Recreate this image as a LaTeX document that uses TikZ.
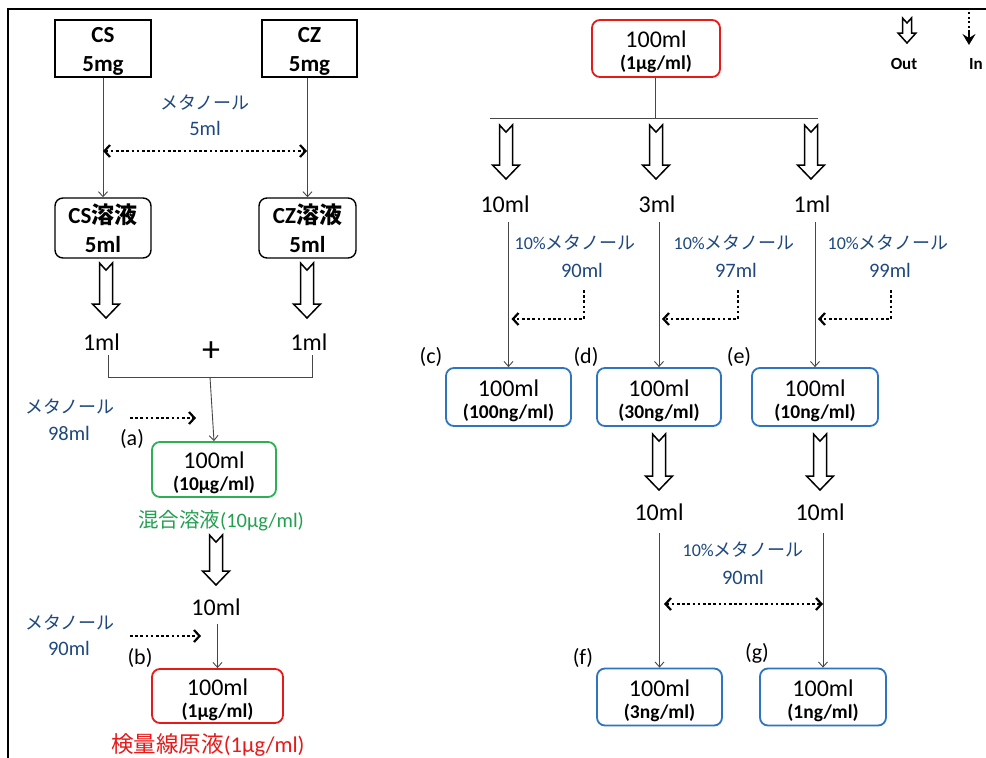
\documentclass[tikz,border=0pt]{standalone}
\usepackage{fontspec}
\setmainfont{Carlito}
\newfontfamily\jp{Noto Sans CJK JP}
\usetikzlibrary{arrows.meta,calc}
\definecolor{navy}{RGB}{31,73,125}
\definecolor{grn}{RGB}{34,160,80}
\definecolor{grnbox}{RGB}{46,175,85}
\definecolor{redc}{RGB}{232,25,25}
\definecolor{bluebox}{RGB}{46,117,190}
\definecolor{linec}{RGB}{70,70,70}
\tikzset{
  sqbox/.style={draw=black, line width=1.4pt, inner sep=0pt},
  rbox/.style={sqbox, rounded corners=8pt},
  boxtxt/.style={inner sep=0pt, align=center, font=\bfseries\fontsize{23}{29}\selectfont},
  vbox/.style={line width=1.8pt, inner sep=0pt, rounded corners=8pt},
  gbox/.style={vbox, draw=grnbox},
  redbox/.style={vbox, draw=redc},
  bbox/.style={vbox, draw=bluebox},
  big/.style={font=\fontsize{24}{26}\selectfont, inner sep=0pt},
  subt/.style={font=\bfseries\fontsize{19.5}{20}\selectfont, inner sep=0pt},
  lbl/.style={font=\fontsize{22}{24}\selectfont, inner sep=0pt},
  meth/.style={text=navy, font=\fontsize{18}{20}\selectfont, inner sep=0pt},
  methn/.style={text=navy, font=\fontsize{20.5}{22}\selectfont, inner sep=0pt},
  legend/.style={font=\bfseries\fontsize{17}{19}\selectfont, inner sep=0pt},
  thinln/.style={draw=linec, line width=0.9pt},
  tarrow/.style={thinln, -{Straight Barb[length=5pt,width=9pt]}},
  dots/.style={draw=black, line width=2.6pt, dash pattern=on 2.6pt off 2.6pt},
  darrow/.style={dots, -{Straight Barb[length=5.5pt,width=12pt,line width=2.2pt]}},
  ddarrow/.style={dots, {Straight Barb[length=5.5pt,width=12pt,line width=2.2pt]}-{Straight Barb[length=5.5pt,width=12pt,line width=2.2pt]}},
}
% hollow arrow: x, ytop, ybot, half shaft, half head, head length
\newcommand{\holarr}[6]{%
  \draw[line width=1.5pt, fill=white, line join=miter, miter limit=10]
    ({#1-#4},#2) -- (#1,{#2+#4*1.1}) -- ({#1+#4},#2) -- ({#1+#4},{#3-#6})
    -- ({#1+#5},{#3-#6}) -- (#1,#3) -- ({#1-#5},{#3-#6}) -- ({#1-#4},{#3-#6}) -- cycle;}
% value box: name, style, x, y, w, h, main, sub
\newcommand{\valbox}[8]{%
  \node[#2, minimum width=#5pt, minimum height=#6pt] (#1) at (#3,#4) {};
  \node[big, anchor=base] at ($(#1.center)+(0,-1)$) {#7};
  \node[subt, anchor=base] at ($(#1.center)+(0,21)$) {#8};}
\begin{document}
\begin{tikzpicture}[x=1pt,y=-1pt]
\useasboundingbox (0,0) rectangle (986,758);
\fill[white] (0,0) rectangle (986,758);
% frame
\draw[line width=2.6pt] (8,758) -- (8,9) -- (986,9);

%%%%%%%% LEFT PART
\node[sqbox, minimum width=96pt, minimum height=57pt] (cs) at (103,48.5) {};
\node[boxtxt] at ($(cs.center)+(0,3)$) {CS\\5mg};
\node[sqbox, minimum width=95pt, minimum height=57pt] (cz) at (309.5,48.5) {};
\node[boxtxt] at ($(cz.center)+(0,3)$) {CZ\\5mg};
\node[meth] (m1) at (205,103) {\jp メタノール};
\node[methn] (m1v) at (205,128) {5ml};
\node[rbox, minimum width=96pt, minimum height=60pt] (cssol) at (103,228) {};
\node[boxtxt] at (cssol.center) {CS{\jp 溶液}\\5ml};
\node[rbox, minimum width=97pt, minimum height=60pt] (czsol) at (307.5,228) {};
\node[boxtxt] at (czsol.center) {CZ{\jp 溶液}\\5ml};
\draw[tarrow] (cs.south) -- (cssol.north);
\draw[tarrow] (czsol.north |- cz.south) -- (czsol.north);
\coordinate (dl) at (103,151);
\coordinate (dr) at (307,151);
\draw[ddarrow] (dl) -- (dr);

\holarr{106}{263}{318}{6.5}{13.5}{14}
\holarr{307}{263}{318}{6.5}{13.5}{14}
\node[big] (ml1a) at (101.5,342) {1ml};
\node[big] (ml1b) at (309,342) {1ml};
\node[font=\fontsize{36}{38}\selectfont, inner sep=0pt] (plus) at (211,352) {+};
\coordinate (bl) at (108,355);
\coordinate (br) at (312,355);
\coordinate (bm) at (210,377);
\draw[thinln] (bl) -- (bl |- bm) -- (br |- bm) -- (br);

\node[meth] (m2) at (70,407) {\jp メタノール};
\node[methn] (m2v) at (69,433) {98ml};
\coordinate (da1) at (130,418);
\coordinate (da2) at (196,418);
\draw[darrow] (da1) -- (da2);
\node[lbl] (la) at (132,439) {(a)};
\valbox{mix}{gbox}{214}{469.5}{124}{55}{100ml}{(10μg/ml)}
\draw[tarrow] (bm) -- (mix.north);
\node[text=grn, font=\fontsize{20.5}{22}\selectfont, inner sep=0pt] (mixt) at (221,521) {{\jp 混合溶液}(10μg/ml)};

\holarr{216}{535}{585}{6.5}{13.5}{14}
\node[big] (ml10) at (216,607) {10ml};
\node[meth] (m3) at (70,623) {\jp メタノール};
\node[methn] (m3v) at (69,648) {90ml};
\coordinate (db1) at (130,636);
\coordinate (db2) at (201,636);
\draw[darrow] (db1) -- (db2);
\node[lbl] (lb) at (140,658) {(b)};
\valbox{std}{redbox}{217.5}{696}{131}{54}{100ml}{(1μg/ml)}
\draw[tarrow] (std.north |- ml10.south) ++(0,8) -- (std.north);
\node[text=redc, font=\fontsize{22.5}{24}\selectfont, inner sep=0pt] (stdt) at (208,745) {{\jp 検量線原液}(1μg/ml)};

%%%%%%%% RIGHT PART
\valbox{top}{redbox}{656}{48.5}{128}{57}{100ml}{(1μg/ml)}
\coordinate (tj) at (655,118);
\coordinate (tl) at (490,118);
\coordinate (tr) at (818,118);
\draw[thinln] (top.south -| tj) -- (tj);
\draw[thinln] (tl) -- (tr);
\holarr{506}{125}{179}{6.5}{13.5}{14}
\holarr{656}{125}{179}{6.5}{13.5}{14}
\holarr{811}{125}{179}{6.5}{13.5}{14}
\node[big] (v1) at (505,204) {10ml};
\node[big] (v2) at (657,204) {3ml};
\node[big] (v3) at (812,204) {1ml};

\node[meth] (n1) at (575,243) {10\%{\jp メタノール}};
\node[methn] (n1v) at (582,270) {90ml};
\node[meth] (n2) at (734,243) {10\%{\jp メタノール}};
\node[methn] (n2v) at (736,270) {97ml};
\node[meth] (n3) at (888,243) {10\%{\jp メタノール}};
\node[methn] (n3v) at (890,270) {99ml};

\valbox{c}{bbox}{508.5}{397}{125}{58}{100ml}{(100ng/ml)}
\valbox{d}{bbox}{659}{397}{124}{58}{100ml}{(30ng/ml)}
\valbox{e}{bbox}{815}{397}{126}{58}{100ml}{(10ng/ml)}
\draw[tarrow] (c.north |- 0,222) -- (c.north);
\draw[tarrow] (d.north |- 0,222) -- (d.north);
\draw[tarrow] (e.north |- 0,222) -- (e.north);
\node[lbl] (lc) at (431,357) {(c)};
\node[lbl] (ld) at (586,357) {(d)};
\node[lbl] (le) at (739,357) {(e)};

\coordinate (k1) at (584,290);
\coordinate (k2) at (738,290);
\coordinate (k3) at (891,290);
\draw[darrow] (k1) -- (k1 |- 0,319) -- ($(c.north |- 0,319)+(3,0)$);
\draw[darrow] (k2) -- (k2 |- 0,319) -- ($(d.north |- 0,319)+(3,0)$);
\draw[darrow] (k3) -- (k3 |- 0,319) -- ($(e.north |- 0,319)+(3,0)$);

\holarr{659}{434}{490}{6.5}{13.5}{14}
\holarr{820}{434}{490}{6.5}{13.5}{14}
\node[big] (w1) at (659,512) {10ml};
\node[big] (w2) at (820,512) {10ml};
\node[meth] (p1) at (743,550) {10\%{\jp メタノール}};
\node[methn] (p1v) at (743,577) {90ml};

\valbox{f}{bbox}{659.5}{697}{125}{57}{100ml}{(3ng/ml)}
\valbox{g}{bbox}{823}{697}{126}{57}{100ml}{(1ng/ml)}
\draw[tarrow] (f.north |- 0,533) -- (f.north);
\draw[tarrow] (g.north |- 0,533) -- (g.north);
\coordinate (q1) at (664,604);
\coordinate (q2) at (823,604);
\draw[ddarrow] (q1) -- (q2);
\node[lbl] (lf) at (583,658) {(f)};
\node[lbl] (lg) at (757,653) {(g)};

%%%%%%%% LEGEND
\holarr{907}{18}{43}{4.5}{9}{10}
\node[legend] (out) at (904,64) {Out};
\coordinate (in1) at (969,12);
\coordinate (in2) at (969,45);
\draw[draw=black, line width=2.2pt, dash pattern=on 2.2pt off 2.4pt] (in1) -- ($(in2)+(0,-12)$);
\draw[line width=1.4pt, -{Stealth[length=11pt,width=13pt,inset=4pt]}] ($(in2)+(0,-13)$) -- (in2);
\node[legend] (inl) at (976,64) {In};
\end{tikzpicture}
\end{document}
